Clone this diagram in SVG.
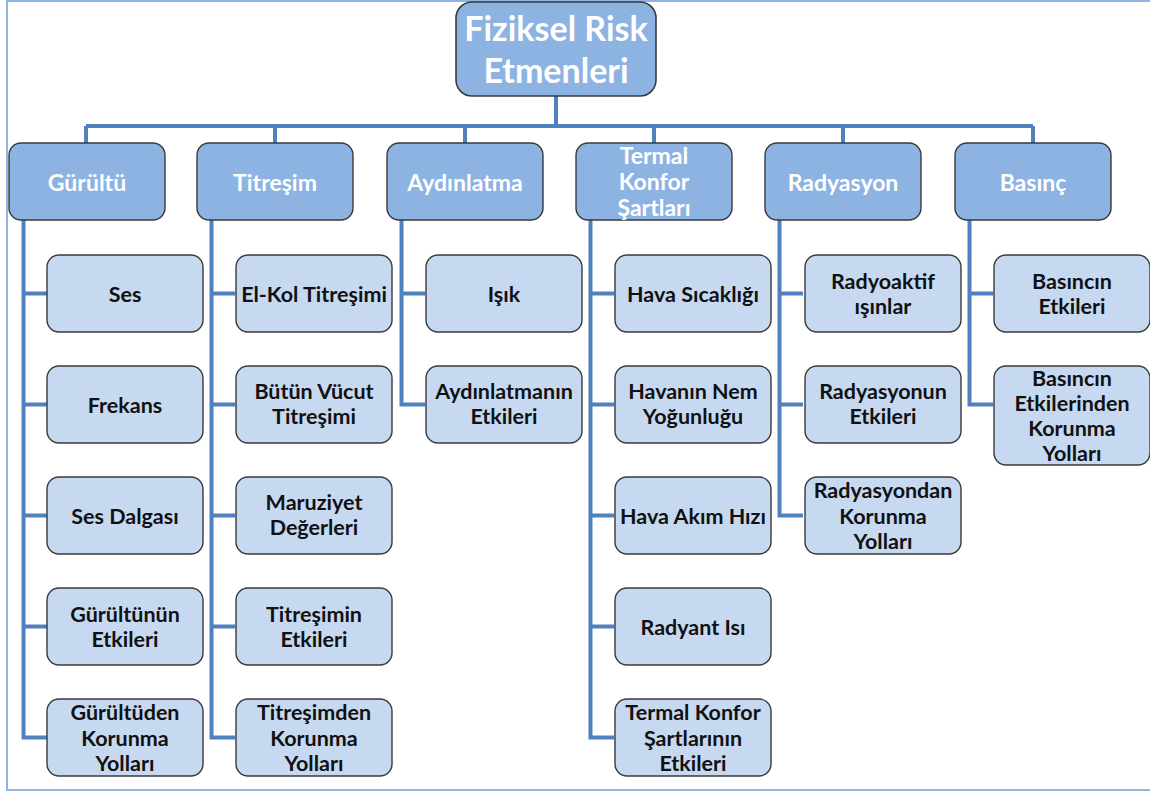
<svg xmlns="http://www.w3.org/2000/svg" width="1150" height="794" viewBox="0 0 1150 794">
  <style>
    .frame { fill: none; stroke: #8eb4e3; stroke-width: 2; }
    .root { fill: #8db3e2; stroke: #3a3a3a; stroke-width: 1.6; }
    .cat { fill: #8db3e2; stroke: #3a3a3a; stroke-width: 1.4; }
    .leaf { fill: #c6d9f1; stroke: #3a3a3a; stroke-width: 1.4; }
    .conn { fill: none; stroke: #4f81bd; stroke-width: 4; stroke-linejoin: miter; }
    text { font-family: Lato, "Open Sans", "Liberation Sans", sans-serif; font-weight: bold; text-anchor: middle; dominant-baseline: central; }
    .tRoot { fill: #ffffff; font-size: 34px; }
    .tCat { fill: #ffffff; font-size: 23px; }
    .tLeaf { fill: #111111; font-size: 21.5px; }
  </style>

  <!-- outer frame -->
  <rect class="frame" x="7" y="1" width="1160" height="789"/>

  <!-- connectors -->
  <g id="connectors" class="conn">
    <path d="M556 96 V126 M86 126 H1033 M86 126 V143 M275 126 V143 M465 126 V143 M654 126 V143 M843 126 V143 M1033 126 V143"/>
    <!-- Gürültü -->
    <path d="M23.5 220 V737.5 H47 M23.5 293.5 H47 M23.5 404.5 H47 M23.5 515.5 H47 M23.5 626.5 H47"/>
    <!-- Titreşim -->
    <path d="M211.5 220 V737.5 H235 M211.5 293.5 H235 M211.5 404.5 H235 M211.5 515.5 H235 M211.5 626.5 H235"/>
    <!-- Aydınlatma -->
    <path d="M401.5 220 V404.5 H425 M401.5 293.5 H425"/>
    <!-- Termal Konfor Şartları -->
    <path d="M590.5 220 V737.5 H614 M590.5 293.5 H614 M590.5 404.5 H614 M590.5 515.5 H614 M590.5 626.5 H614"/>
    <!-- Radyasyon -->
    <path d="M779.5 220 V515.5 H803 M779.5 293.5 H803 M779.5 404.5 H803"/>
    <!-- Basınç -->
    <path d="M969.5 220 V404.5 H993 M969.5 293.5 H993"/>
  </g>

  <!-- root -->
  <g id="root">
    <rect class="root" x="456" y="2" width="200" height="94" rx="16"/>
    <text class="tRoot" x="556" y="27">Fiziksel Risk</text>
    <text class="tRoot" x="556" y="69">Etmenleri</text>
  </g>

  <!-- categories -->
  <g id="gurultu">
    <rect class="cat" x="9" y="143" width="156" height="77" rx="12"/>
    <text class="tCat" x="87" y="181.5">Gürültü</text>
  </g>
  <g id="titresim">
    <rect class="cat" x="197" y="143" width="156" height="77" rx="12"/>
    <text class="tCat" x="275" y="181.5">Titreşim</text>
  </g>
  <g id="aydinlatma">
    <rect class="cat" x="387" y="143" width="156" height="77" rx="12"/>
    <text class="tCat" x="465" y="181.5">Aydınlatma</text>
  </g>
  <g id="termal">
    <rect class="cat" x="576" y="143" width="156" height="77" rx="12"/>
    <text class="tCat" x="654" y="155">Termal</text>
    <text class="tCat" x="654" y="181">Konfor</text>
    <text class="tCat" x="654" y="207">Şartları</text>
  </g>
  <g id="radyasyon">
    <rect class="cat" x="765" y="143" width="156" height="77" rx="12"/>
    <text class="tCat" x="843" y="181.5">Radyasyon</text>
  </g>
  <g id="basinc">
    <rect class="cat" x="955" y="143" width="156" height="77" rx="12"/>
    <text class="tCat" x="1033" y="181.5">Basınç</text>
  </g>

  <!-- Gürültü children -->
  <g id="ses">
    <rect class="leaf" x="47" y="255" width="156" height="77" rx="12"/>
    <text class="tLeaf" x="125" y="293.5">Ses</text>
  </g>
  <g id="frekans">
    <rect class="leaf" x="47" y="366" width="156" height="77" rx="12"/>
    <text class="tLeaf" x="125" y="404.5">Frekans</text>
  </g>
  <g id="ses-dalgasi">
    <rect class="leaf" x="47" y="477" width="156" height="77" rx="12"/>
    <text class="tLeaf" x="125" y="515.5">Ses Dalgası</text>
  </g>
  <g id="gurultunun-etkileri">
    <rect class="leaf" x="47" y="588" width="156" height="77" rx="12"/>
    <text class="tLeaf" x="125" y="614">Gürültünün</text>
    <text class="tLeaf" x="125" y="639">Etkileri</text>
  </g>
  <g id="gurultuden-korunma">
    <rect class="leaf" x="47" y="699" width="156" height="77" rx="12"/>
    <text class="tLeaf" x="125" y="712">Gürültüden</text>
    <text class="tLeaf" x="125" y="737.5">Korunma</text>
    <text class="tLeaf" x="125" y="763">Yolları</text>
  </g>

  <!-- Titreşim children -->
  <g id="el-kol">
    <rect class="leaf" x="236" y="255" width="156" height="77" rx="12"/>
    <text class="tLeaf" x="314" y="293.5">El-Kol Titreşimi</text>
  </g>
  <g id="butun-vucut">
    <rect class="leaf" x="236" y="366" width="156" height="77" rx="12"/>
    <text class="tLeaf" x="314" y="391">Bütün Vücut</text>
    <text class="tLeaf" x="314" y="416">Titreşimi</text>
  </g>
  <g id="maruziyet">
    <rect class="leaf" x="236" y="477" width="156" height="77" rx="12"/>
    <text class="tLeaf" x="314" y="502">Maruziyet</text>
    <text class="tLeaf" x="314" y="527">Değerleri</text>
  </g>
  <g id="titresimin-etkileri">
    <rect class="leaf" x="236" y="588" width="156" height="77" rx="12"/>
    <text class="tLeaf" x="314" y="614">Titreşimin</text>
    <text class="tLeaf" x="314" y="639">Etkileri</text>
  </g>
  <g id="titresimden-korunma">
    <rect class="leaf" x="236" y="699" width="156" height="77" rx="12"/>
    <text class="tLeaf" x="314" y="712">Titreşimden</text>
    <text class="tLeaf" x="314" y="737.5">Korunma</text>
    <text class="tLeaf" x="314" y="763">Yolları</text>
  </g>

  <!-- Aydınlatma children -->
  <g id="isik">
    <rect class="leaf" x="426" y="255" width="156" height="77" rx="12"/>
    <text class="tLeaf" x="504" y="293.5">Işık</text>
  </g>
  <g id="aydinlatmanin-etkileri">
    <rect class="leaf" x="426" y="366" width="156" height="77" rx="12"/>
    <text class="tLeaf" x="504" y="391">Aydınlatmanın</text>
    <text class="tLeaf" x="504" y="416">Etkileri</text>
  </g>

  <!-- Termal Konfor Şartları children -->
  <g id="hava-sicakligi">
    <rect class="leaf" x="615" y="255" width="156" height="77" rx="12"/>
    <text class="tLeaf" x="693" y="293.5">Hava Sıcaklığı</text>
  </g>
  <g id="nem">
    <rect class="leaf" x="615" y="366" width="156" height="77" rx="12"/>
    <text class="tLeaf" x="693" y="391">Havanın Nem</text>
    <text class="tLeaf" x="693" y="416">Yoğunluğu</text>
  </g>
  <g id="hava-akim">
    <rect class="leaf" x="615" y="477" width="156" height="77" rx="12"/>
    <text class="tLeaf" x="693" y="515.5">Hava Akım Hızı</text>
  </g>
  <g id="radyant-isi">
    <rect class="leaf" x="615" y="588" width="156" height="77" rx="12"/>
    <text class="tLeaf" x="693" y="626.5">Radyant Isı</text>
  </g>
  <g id="termal-etkileri">
    <rect class="leaf" x="615" y="699" width="156" height="77" rx="12"/>
    <text class="tLeaf" x="693" y="712">Termal Konfor</text>
    <text class="tLeaf" x="693" y="737.5">Şartlarının</text>
    <text class="tLeaf" x="693" y="763">Etkileri</text>
  </g>

  <!-- Radyasyon children -->
  <g id="radyoaktif">
    <rect class="leaf" x="805" y="255" width="156" height="77" rx="12"/>
    <text class="tLeaf" x="883" y="281">Radyoaktif</text>
    <text class="tLeaf" x="883" y="306">ışınlar</text>
  </g>
  <g id="radyasyonun-etkileri">
    <rect class="leaf" x="805" y="366" width="156" height="77" rx="12"/>
    <text class="tLeaf" x="883" y="391">Radyasyonun</text>
    <text class="tLeaf" x="883" y="416">Etkileri</text>
  </g>
  <g id="radyasyondan-korunma">
    <rect class="leaf" x="805" y="477" width="156" height="77" rx="12"/>
    <text class="tLeaf" x="883" y="490">Radyasyondan</text>
    <text class="tLeaf" x="883" y="515.5">Korunma</text>
    <text class="tLeaf" x="883" y="541">Yolları</text>
  </g>

  <!-- Basınç children -->
  <g id="basincin-etkileri">
    <rect class="leaf" x="994" y="255" width="156" height="77" rx="12"/>
    <text class="tLeaf" x="1072" y="281">Basıncın</text>
    <text class="tLeaf" x="1072" y="306">Etkileri</text>
  </g>
  <g id="basinc-korunma">
    <rect class="leaf" x="994" y="366" width="156" height="99" rx="12"/>
    <text class="tLeaf" x="1072" y="378">Basıncın</text>
    <text class="tLeaf" x="1072" y="403">Etkilerinden</text>
    <text class="tLeaf" x="1072" y="428">Korunma</text>
    <text class="tLeaf" x="1072" y="453">Yolları</text>
  </g>
</svg>
